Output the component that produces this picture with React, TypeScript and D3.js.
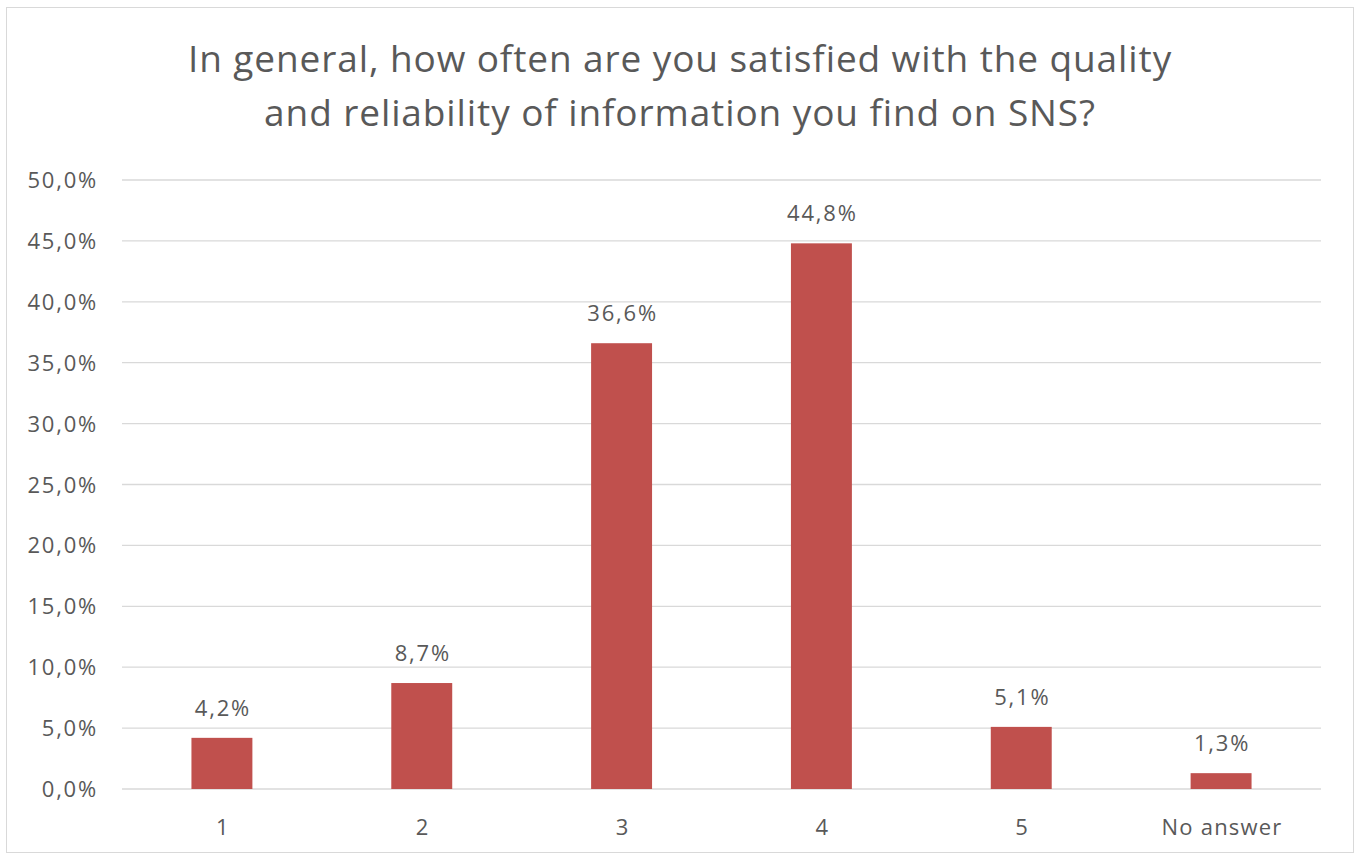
import React from "react";
import * as d3 from "d3";

const categories = ["1", "2", "3", "4", "5", "No answer"];
const values = [4.2, 8.7, 36.6, 44.8, 5.1, 1.3];
const yTicks = [0, 5, 10, 15, 20, 25, 30, 35, 40, 45, 50];
const titleLines = [
  "In general, how often are you satisfied with the quality",
  "and reliability of information you find on SNS?",
];

const W = 1360;
const H = 859;
const left = 122;
const right = 1321;
const top = 180;
const bottom = 789;
const FONT = "'Open Sans', Lato, sans-serif";
const TEXT = "#595959";
const BAR = "#c0504d";

const fmt = (v: number) => v.toFixed(1).replace(".", ",") + "%";

export default function App() {
  const x = d3
    .scaleBand<string>()
    .domain(categories)
    .range([left, right])
    .paddingInner(0.695)
    .paddingOuter(0.3475);
  const y = d3.scaleLinear().domain([0, 50]).range([bottom, top]);

  return (
    <svg
      width={W}
      height={H}
      style={{ position: "absolute", left: 0, top: 0, background: "#fff" }}
    >
      <rect x={6.5} y={7.5} width={1347} height={845} fill="#fff" stroke="#d9d9d9" strokeWidth={1} />
      {titleLines.map((t, i) => (
        <text
          key={i}
          x={680}
          y={72 + i * 54}
          textAnchor="middle"
          fontFamily={FONT}
          fontSize={37}
          letterSpacing={0.9}
          fill={TEXT}
        >
          {t}
        </text>
      ))}
      {yTicks.map((t) => (
        <g key={t}>
          <line x1={left} x2={right} y1={y(t)} y2={y(t)} stroke="#d9d9d9" strokeWidth={1.3} />
          <text
            x={98}
            y={y(t) + 8}
            textAnchor="end"
            fontFamily={FONT}
            fontSize={22}
            letterSpacing={1.8}
            fill={TEXT}
          >
            {fmt(t)}
          </text>
        </g>
      ))}
      {categories.map((c, i) => (
        <g key={c}>
          <rect
            x={x(c)!}
            y={y(values[i])}
            width={x.bandwidth()}
            height={y(0) - y(values[i])}
            fill={BAR}
          />
          <text
            x={x(c)! + x.bandwidth() / 2 + 1}
            y={y(values[i]) - 22}
            textAnchor="middle"
            fontFamily={FONT}
            fontSize={22}
            letterSpacing={1.8}
            fill={TEXT}
          >
            {fmt(values[i])}
          </text>
          <text
            x={x(c)! + x.bandwidth() / 2 + 1}
            y={835}
            textAnchor="middle"
            fontFamily={FONT}
            fontSize={22}
            letterSpacing={1.2}
            fill={TEXT}
          >
            {c}
          </text>
        </g>
      ))}
    </svg>
  );
}
